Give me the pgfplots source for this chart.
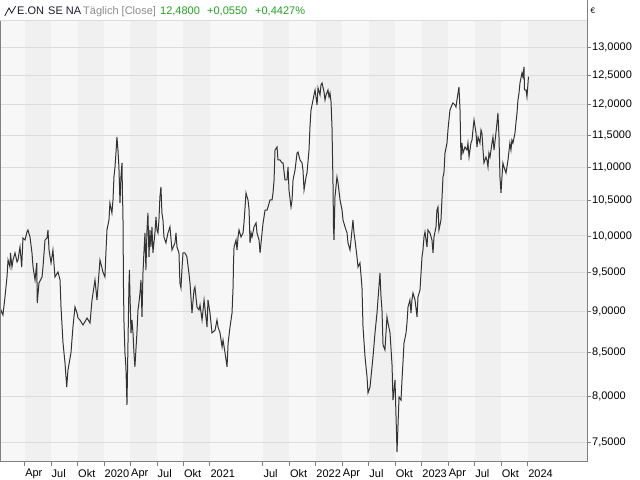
\documentclass[border=0pt]{standalone}
\usepackage{pgfplots}
\pgfplotsset{compat=1.18}
\usepackage{fontspec}
\setmainfont{Liberation Sans}
\definecolor{bandlight}{HTML}{F7F7F7}
\definecolor{banddark}{HTML}{F0F0F0}
\definecolor{gridc}{HTML}{DCDCDC}
\definecolor{axisc}{HTML}{808080}
\definecolor{linec}{HTML}{333333}
\definecolor{greenc}{HTML}{22A022}
\definecolor{grayt}{HTML}{8C8C8C}
\definecolor{navyt}{HTML}{1A1A2E}
\pgfplotstableread{
x y
2019.018 8.934
2019.027 9.021
2019.046 8.959
2019.065 9.185
2019.084 9.445
2019.094 9.671
2019.112 9.577
2019.117 9.766
2019.131 9.577
2019.141 9.671
2019.160 9.766
2019.179 9.644
2019.188 9.671
2019.207 9.848
2019.223 9.577
2019.235 9.972
2019.254 9.944
2019.273 10.055
2019.282 10.083
2019.301 9.986
2019.320 9.766
2019.330 9.577
2019.349 9.405
2019.365 9.631
2019.370 9.109
2019.386 9.366
2019.415 9.445
2019.424 9.577
2019.443 9.944
2019.462 9.972
2019.471 10.083
2019.481 9.806
2019.500 9.631
2019.518 9.806
2019.537 9.445
2019.566 9.511
2019.585 9.405
2019.594 9.059
2019.613 8.616
2019.632 8.380
2019.648 8.105
2019.660 8.299
2019.688 8.498
2019.707 8.810
2019.726 9.059
2019.745 8.984
2019.755 8.921
2019.773 8.896
2019.802 8.835
2019.840 8.921
2019.868 8.859
2019.887 9.147
2019.915 9.405
2019.934 9.147
2019.962 9.671
2019.990 9.511
2020.009 9.445
2020.018 9.766
2020.028 10.083
2020.047 10.224
2020.056 10.469
2020.075 10.324
2020.085 10.513
2020.094 10.854
2020.104 11.006
2020.113 11.222
2020.122 11.475
2020.132 11.269
2020.141 11.006
2020.151 10.469
2020.160 10.854
2020.170 11.068
2020.174 10.616
2020.179 10.324
2020.184 9.314
2020.189 8.859
2020.198 8.498
2020.207 8.334
2020.217 7.905
2020.226 8.569
2020.236 9.366
2020.240 9.537
2020.245 9.237
2020.255 8.737
2020.264 8.896
2020.274 8.737
2020.283 8.498
2020.292 8.334
2020.311 8.737
2020.321 9.021
2020.330 9.109
2020.340 9.237
2020.349 9.405
2020.359 8.934
2020.368 9.497
2020.377 9.766
2020.387 10.041
2020.396 9.537
2020.406 10.083
2020.415 10.324
2020.425 9.712
2020.434 10.083
2020.443 9.848
2020.453 10.126
2020.462 9.766
2020.481 10.041
2020.491 10.267
2020.500 10.083
2020.510 10.041
2020.519 10.224
2020.528 10.557
2020.538 10.705
2020.547 10.324
2020.557 10.224
2020.566 9.986
2020.585 9.903
2020.604 10.041
2020.623 10.126
2020.642 9.806
2020.670 9.903
2020.680 10.041
2020.689 9.848
2020.708 9.766
2020.717 9.366
2020.727 9.301
2020.736 9.537
2020.746 9.766
2020.764 9.766
2020.783 9.712
2020.802 9.497
2020.812 9.366
2020.831 8.984
2020.850 9.275
2020.859 9.314
2020.878 9.059
2020.897 9.021
2020.907 9.084
2020.926 8.896
2020.945 9.147
2020.973 8.810
2020.982 9.147
2021.001 8.984
2021.020 8.737
2021.049 8.773
2021.067 8.896
2021.077 8.810
2021.096 8.737
2021.115 8.569
2021.124 8.652
2021.143 8.498
2021.162 8.334
2021.172 8.616
2021.190 8.810
2021.209 8.984
2021.219 9.314
2021.223 9.631
2021.228 9.848
2021.247 9.944
2021.256 9.806
2021.266 9.986
2021.275 10.083
2021.294 9.986
2021.313 10.041
2021.322 10.182
2021.341 10.616
2021.351 10.557
2021.360 10.513
2021.370 10.367
2021.379 9.903
2021.389 10.041
2021.398 9.986
2021.417 10.126
2021.436 10.182
2021.445 10.041
2021.464 9.944
2021.474 9.766
2021.483 9.903
2021.502 10.182
2021.511 10.267
2021.521 10.367
2021.540 10.367
2021.549 10.411
2021.568 10.513
2021.587 10.513
2021.596 10.616
2021.606 10.809
2021.615 11.269
2021.634 11.317
2021.643 11.114
2021.662 11.114
2021.681 11.068
2021.691 11.068
2021.709 10.809
2021.728 10.809
2021.738 11.006
2021.747 10.660
2021.766 10.411
2021.776 10.513
2021.785 10.809
2021.804 10.960
2021.823 11.222
2021.832 11.238
2021.851 11.114
2021.870 11.068
2021.879 10.960
2021.889 10.660
2021.908 10.854
2021.917 10.915
2021.936 11.269
2021.945 11.636
2021.955 11.914
2021.974 12.081
2021.983 12.166
2021.993 12.250
2022.012 11.998
2022.021 12.285
2022.040 12.166
2022.049 12.336
2022.059 12.370
2022.078 12.216
2022.087 12.081
2022.097 12.166
2022.115 12.250
2022.125 12.132
2022.134 12.199
2022.144 12.048
2022.153 11.636
2022.163 10.705
2022.167 10.126
2022.172 9.944
2022.181 10.557
2022.200 10.854
2022.210 10.764
2022.229 10.513
2022.248 10.367
2022.257 10.224
2022.276 10.126
2022.295 10.041
2022.304 9.903
2022.323 9.806
2022.333 9.944
2022.351 10.224
2022.361 10.041
2022.370 9.944
2022.389 9.712
2022.399 9.577
2022.417 9.631
2022.436 9.314
2022.446 8.810
2022.465 8.450
2022.484 8.218
2022.493 8.038
2022.512 8.105
2022.531 8.334
2022.540 8.450
2022.559 8.737
2022.578 8.984
2022.587 9.147
2022.606 9.497
2022.616 9.185
2022.625 9.021
2022.635 8.593
2022.653 8.533
2022.672 8.934
2022.682 8.859
2022.701 8.737
2022.720 8.357
2022.729 7.960
2022.748 8.184
2022.767 7.404
2022.786 7.993
2022.805 7.960
2022.814 8.184
2022.823 8.380
2022.833 8.616
2022.852 8.737
2022.861 8.859
2022.871 9.059
2022.889 9.147
2022.899 8.984
2022.908 9.147
2022.918 9.237
2022.937 9.147
2022.956 8.934
2022.965 9.185
2022.984 9.275
2023.003 9.712
2023.012 9.806
2023.022 9.986
2023.031 10.055
2023.050 9.848
2023.059 10.083
2023.078 10.041
2023.097 9.944
2023.107 9.766
2023.116 9.986
2023.135 10.126
2023.144 10.367
2023.154 10.411
2023.163 10.083
2023.182 10.224
2023.191 10.513
2023.201 10.854
2023.210 10.915
2023.220 11.222
2023.239 11.380
2023.248 11.587
2023.267 11.914
2023.286 11.998
2023.295 12.031
2023.314 11.998
2023.324 11.964
2023.333 12.081
2023.352 12.302
2023.362 11.914
2023.371 11.114
2023.380 11.380
2023.390 11.222
2023.409 11.317
2023.428 11.269
2023.437 11.380
2023.447 11.160
2023.465 11.380
2023.475 11.427
2023.484 11.587
2023.494 11.750
2023.513 11.539
2023.522 11.317
2023.532 11.475
2023.550 11.380
2023.560 11.587
2023.569 11.539
2023.579 11.269
2023.588 11.068
2023.607 11.160
2023.616 11.114
2023.626 11.006
2023.635 11.222
2023.645 11.160
2023.664 11.380
2023.673 11.475
2023.683 11.269
2023.701 11.539
2023.711 11.701
2023.720 11.865
2023.730 11.475
2023.739 10.854
2023.749 10.616
2023.758 10.854
2023.767 11.068
2023.777 11.006
2023.796 10.915
2023.805 11.006
2023.815 11.114
2023.833 11.380
2023.843 11.269
2023.852 11.427
2023.862 11.380
2023.881 11.539
2023.890 11.701
2023.900 11.865
2023.909 12.081
2023.919 12.199
2023.928 12.370
2023.947 12.544
2023.956 12.474
2023.966 12.649
2023.971 12.250
2023.985 12.250
2023.994 12.132
2024.004 12.370
2024.008 12.480
}\eondata
\begin{document}
\begin{tikzpicture}[font=\fontsize{11bp}{13bp}\selectfont]
\begin{axis}[
  at={(0bp,18.3bp)}, anchor=south west,
  scale only axis, width=587bp, height=441bp,
  set layers,
  ymode=log,
  xmin=2019.018, xmax=2024.561,
  ymin=7.305, ymax=13.49,
  axis line style={draw=none},
  axis background/.style={fill=bandlight},
  ytick={7.5,8,8.5,9,9.5,10,10.5,11,11.5,12,12.5,13},
  yticklabels={{7,5000},{8,0000},{8,5000},{9,0000},{9,5000},{10,0000},{10,5000},{11,0000},{11,5000},{12,0000},{12,5000},{13,0000}},
  ytick pos=right, yticklabel pos=right,
  xtick pos=bottom,
  xtick={2019.25,2019.5,2019.75,2020,2020.25,2020.5,2020.75,2021,2021.5,2021.75,2022,2022.25,2022.5,2022.75,2023,2023.25,2023.5,2023.75,2024},
  xticklabels={Apr,Jul,Okt,2020,Apr,Jul,Okt,2021,Jul,Okt,2022,Apr,Jul,Okt,2023,Apr,Jul,Okt,2024},
  minor tick num=0,
  tick align=outside,
  major tick length=4bp,
  tick style={axisc, line width=0.8bp},
  ymajorgrids,
  major grid style={gridc, line width=1bp},
  yticklabel style={anchor=west, inner sep=0pt, text=black, xshift=1bp},
  xticklabel style={anchor=north west, inner sep=0pt, text=black, yshift=-3.5bp, xshift=0.5bp},
]
\addplot[on layer=axis background, fill=banddark, draw=none] coordinates {(2019.25,7.305) (2019.25,13.49) (2019.5,13.49) (2019.5,7.305)} -- cycle;
\addplot[on layer=axis background, fill=banddark, draw=none] coordinates {(2019.75,7.305) (2019.75,13.49) (2020,13.49) (2020,7.305)} -- cycle;
\addplot[on layer=axis background, fill=banddark, draw=none] coordinates {(2020.25,7.305) (2020.25,13.49) (2020.5,13.49) (2020.5,7.305)} -- cycle;
\addplot[on layer=axis background, fill=banddark, draw=none] coordinates {(2020.75,7.305) (2020.75,13.49) (2021,13.49) (2021,7.305)} -- cycle;
\addplot[on layer=axis background, fill=banddark, draw=none] coordinates {(2021.5,7.305) (2021.5,13.49) (2021.75,13.49) (2021.75,7.305)} -- cycle;
\addplot[on layer=axis background, fill=banddark, draw=none] coordinates {(2022,7.305) (2022,13.49) (2022.25,13.49) (2022.25,7.305)} -- cycle;
\addplot[on layer=axis background, fill=banddark, draw=none] coordinates {(2022.5,7.305) (2022.5,13.49) (2022.75,13.49) (2022.75,7.305)} -- cycle;
\addplot[on layer=axis background, fill=banddark, draw=none] coordinates {(2023,7.305) (2023,13.49) (2023.25,13.49) (2023.25,7.305)} -- cycle;
\addplot[on layer=axis background, fill=banddark, draw=none] coordinates {(2023.5,7.305) (2023.5,13.49) (2023.75,13.49) (2023.75,7.305)} -- cycle;
\addplot[on layer=axis background, fill=banddark, draw=none] coordinates {(2024,7.305) (2024,13.49) (2024.561,13.49) (2024.561,7.305)} -- cycle;
\addplot[linec, line width=1bp] table {\eondata};
\draw[gridc, line width=1bp] (rel axis cs:0,1) -- (rel axis cs:1,1);
\draw[axisc, line width=1bp] ([xshift=0.5bp]rel axis cs:0,1) -- ([xshift=0.5bp]rel axis cs:0,0) -- (rel axis cs:1,0);
\end{axis}
\draw[axisc, line width=1bp] (587bp,18.3bp) -- (587bp,480bp);
\node[anchor=base west, inner sep=0pt] at (590.5bp,466bp) {\fontsize{8bp}{9bp}\selectfont €};
\draw[navyt, line width=0.8bp] (4.7bp,464bp) -- (9bp,472bp) -- (11.7bp,467bp) -- (15.7bp,474bp);
\node[anchor=base west, inner sep=0pt, text=navyt] at (17bp,465bp) {E.ON};
\node[anchor=base west, inner sep=0pt, text=navyt] at (48bp,465bp) {SE NA};
\node[anchor=base west, inner sep=0pt, text=grayt] at (83bp,465bp) {Täglich [Close]};
\node[anchor=base west, inner sep=0pt, text=greenc] at (160bp,465bp) {12,4800};
\node[anchor=base west, inner sep=0pt, text=greenc] at (207bp,465bp) {+0,0550};
\node[anchor=base west, inner sep=0pt, text=greenc] at (255bp,465bp) {+0,4427\%};
\pgfresetboundingbox
\path[use as bounding box] (0,0) rectangle (640bp,480bp);
\end{tikzpicture}
\end{document}
